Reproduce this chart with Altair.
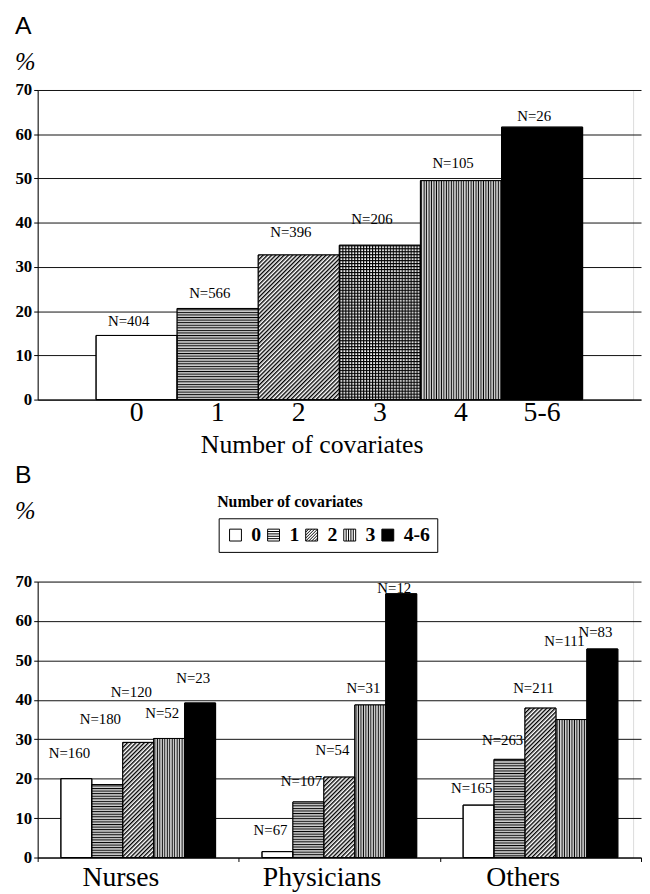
import base64
import altair as alt
import pandas as pd

# ---------------- data: panel A ----------------
cov_cats = ["0", "1", "2", "3", "4", "5-6"]
cov_pct = [14.5, 20.6, 32.7, 34.9, 49.5, 61.6]
cov_n = [404, 566, 396, 206, 105, 26]
cov_label_at = [17.7, 24.1, 37.9, 40.9, 53.4, 64.2]

# ---------------- data: panel B ----------------
groups = ["Nurses", "Physicians", "Others"]
b_cats = ["0", "1", "2", "3", "4-6"]
nurses_pct = [20.0, 18.5, 29.2, 30.2, 39.2]
physicians_pct = [1.5, 14.1, 20.4, 38.7, 66.9]
others_pct = [13.3, 24.9, 37.9, 35.0, 52.9]
nurses_n = [160, 180, 120, 52, 23]
physicians_n = [67, 107, 54, 31, 12]
others_n = [165, 263, 211, 111, 83]
nurses_label_at = [26.5, 35.0, 42.0, 36.7, 45.6]
physicians_label_at = [7.0, 19.4, 27.3, 43.0, 68.4]
others_label_at = [17.5, 29.8, 43.0, 55.0, 57.1]
y_ticks = [0, 10, 20, 30, 40, 50, 60, 70]

SERIF = "Liberation Serif, Tinos, Times New Roman, DejaVu Serif, serif"
SANS = "Liberation Sans, Arimo, Arial, sans-serif"


def pattern_uri(body, w, h, transform=""):
    tr = f" patternTransform='{transform}'" if transform else ""
    svg = (
        "<svg xmlns='http://www.w3.org/2000/svg' width='100%' height='100%'>"
        f"<defs><pattern id='p' width='{w}' height='{h}' patternUnits='userSpaceOnUse'{tr}>"
        f"{body}</pattern></defs>"
        "<rect width='100%' height='100%' fill='url(#p)'/></svg>"
    )
    return "data:image/svg+xml;base64," + base64.b64encode(svg.encode()).decode()


HLINES = pattern_uri("<rect width='4' height='2.6' fill='white'/><rect y='0.7' width='4' height='1.3' fill='black'/>", 4, 2.6)
DIAG = pattern_uri("<rect width='3' height='3' fill='white'/><rect width='1.4' height='3' fill='black'/>", 3, 3, "rotate(45)")
CHECK = pattern_uri("<rect width='3' height='3' fill='white'/><rect width='1.2' height='3' fill='black'/><rect width='3' height='1.2' fill='black'/>", 3, 3)
VLINES = pattern_uri("<rect width='2.5' height='4' fill='white'/><rect x='0.6' width='1.2' height='4' fill='black'/>", 2.5, 4)

patterns_A = {"1": HLINES, "2": DIAG, "3": CHECK, "4": VLINES}
patterns_B = {"1": HLINES, "2": DIAG, "3": VLINES}

# legend swatch shapes (unit square paths)
SQ = "M-1,-1H1V1H-1Z"
H_PATH = SQ + " M-1,-0.6H1 M-1,-0.2H1 M-1,0.2H1 M-1,0.6H1"
D_PATH = SQ + " M-1,0L0,-1 M-1,1L1,-1 M0,1L1,0 M-1,-0.5L-0.5,-1 M-1,0.5L0.5,-1 M-0.5,1L1,-0.5 M0.5,1L1,0.5"
V_PATH = SQ + " M-0.6,-1V1 M-0.2,-1V1 M0.2,-1V1 M0.6,-1V1"

y_axis_common = dict(
    values=y_ticks,
    labelFont=SERIF,
    labelFontSize=17,
    labelFontWeight="bold",
    labelColor="black",
    labelPadding=2,
    labelOverlap=False,
    tickSize=4,
    tickColor="black",
    domainColor="black",
    grid=True,
    gridColor="#111111",
    gridWidth=1,
)

# ---------------- panel A ----------------
dfA = pd.DataFrame({
    "k": cov_cats,
    "pct": cov_pct,
    "n": [f"N={v}" for v in cov_n],
    "lab": cov_label_at,
})

xA = alt.X(
    "k:N",
    sort=cov_cats,
    scale=alt.Scale(range=[0, 610], paddingInner=0, paddingOuter=0.72),
    axis=alt.Axis(
        title="Number of covariates",
        labelAngle=0,
        ticks=False,
        tickSize=0,
        labelFont=SERIF,
        labelFontSize=28,
        labelColor="black",
        labelBaseline="alphabetic",
        labelPadding=21,
        titleFont=SERIF,
        titleFontSize=26,
        titleFontWeight="normal",
        titleColor="black",
        titleX=277,
        titleY=53,
        titleBaseline="alphabetic",
        domainColor="black",
        grid=False,
    ),
)
axisA_y = alt.Axis(title=None, **y_axis_common)
yA = alt.Y("pct:Q", scale=alt.Scale(domain=[0, 70], nice=False), axis=axisA_y)
yA_lab = alt.Y("lab:Q", scale=alt.Scale(domain=[0, 70], nice=False), axis=axisA_y)

baseA = alt.Chart(dfA)
barsA = baseA.mark_bar(stroke="black", strokeWidth=1).encode(
    x=xA, y=yA,
    fill=alt.condition(alt.datum.k == "5-6", alt.value("black"), alt.value("white")),
)
imgA = [
    baseA.transform_filter(alt.datum.k == c).mark_image(aspect=False).encode(
        x=xA, y=yA, y2=alt.datum(0), url=alt.value(u)
    )
    for c, u in patterns_A.items()
]
outlineA = baseA.mark_bar(fillOpacity=0, stroke="black", strokeWidth=1).encode(x=xA, y=yA)
textA = baseA.mark_text(font=SERIF, fontSize=15, color="black", dx=-8, baseline="middle").encode(
    x=xA, y=yA_lab, text="n:N"
)

panelA = alt.layer(barsA, *imgA, outlineA, textA).properties(
    width=602,
    height=313,
    title=alt.Title(
        "A",
        subtitle="%",
        anchor="start",
        frame="bounds",
        font=SANS,
        fontSize=25,
        fontWeight="normal",
        color="black",
        subtitleFont=SERIF,
        subtitleFontSize=25,
        subtitleFontStyle="italic",
        subtitleColor="black",
        subtitlePadding=12,
        offset=6,
    ),
)

# ---------------- panel B ----------------
rows = []
for g, vals, ns, labs in [
    ("Nurses", nurses_pct, nurses_n, nurses_label_at),
    ("Physicians", physicians_pct, physicians_n, physicians_label_at),
    ("Others", others_pct, others_n, others_label_at),
]:
    for k, v, n, l in zip(b_cats, vals, ns, labs):
        rows.append({"g": g, "k": k, "pct": v, "n": f"N={n}", "lab": l})
dfB = pd.DataFrame(rows)

xB = alt.X(
    "g:N",
    sort=groups,
    scale=alt.Scale(range=[0, 610], paddingInner=0, paddingOuter=0),
    axis=alt.Axis(
        title=None,
        labelAngle=0,
        tickBand="extent",
        tickSize=4,
        tickColor="black",
        labelFont=SERIF,
        labelFontSize=28,
        labelColor="black",
        labelBaseline="alphabetic",
        labelPadding=24,
        labelOffset=-18,
        domainColor="black",
        grid=False,
    ),
)
xoB = alt.XOffset("k:N", sort=b_cats, scale=alt.Scale(paddingInner=0, paddingOuter=0.75))
axisB_y = alt.Axis(
    title="Number of covariates",
    titleAngle=0,
    titleX=181,
    titleY=-76,
    titleAlign="left",
    titleBaseline="alphabetic",
    titleFont=SERIF,
    titleFontSize=16,
    titleFontWeight="bold",
    titleColor="black",
    **y_axis_common,
)
yB = alt.Y("pct:Q", scale=alt.Scale(domain=[0, 70], nice=False), axis=axisB_y)
yB_lab = alt.Y("lab:Q", scale=alt.Scale(domain=[0, 70], nice=False), axis=axisB_y)

baseB = alt.Chart(dfB)
barsB = baseB.mark_bar(stroke="black", strokeWidth=1).encode(
    x=xB, xOffset=xoB, y=yB,
    fill=alt.condition(alt.datum.k == "4-6", alt.value("black"), alt.value("white")),
)
imgB = [
    baseB.transform_filter(alt.datum.k == c).mark_image(aspect=False).encode(
        x=xB, xOffset=xoB, y=yB, y2=alt.datum(0), url=alt.value(u)
    )
    for c, u in patterns_B.items()
]
outlineB = baseB.mark_bar(fillOpacity=0, stroke="black", strokeWidth=1).encode(x=xB, xOffset=xoB, y=yB)
textB = baseB.mark_text(font=SERIF, fontSize=15, color="black", dx=-7, baseline="middle").encode(
    x=xB, xOffset=xoB, y=yB_lab, text="n:N"
)

legend_props = dict(
    title=None,
    orient="none",
    legendX=183,
    legendY=-64,
    direction="horizontal",
    strokeColor="black",
    fillColor="white",
    padding=7,
    symbolSize=144,
    symbolStrokeWidth=1,
    symbolStrokeColor="black",
    labelFont=SERIF,
    labelFontSize=20,
    labelFontWeight="bold",
    labelColor="black",
    labelOffset=6,
    columnPadding=2.5,
)
legendB = baseB.transform_filter("false").mark_point(
    filled=True, size=144, strokeWidth=1, opacity=1
).encode(
    shape=alt.Shape("k:N", scale=alt.Scale(domain=b_cats, range=[SQ, H_PATH, D_PATH, V_PATH, SQ]), legend=alt.Legend(**legend_props)),
    fill=alt.Fill("k:N", scale=alt.Scale(domain=b_cats, range=["white", "white", "white", "white", "black"]), legend=alt.Legend(**legend_props)),
    stroke=alt.Stroke("k:N", scale=alt.Scale(domain=b_cats, range=["black"] * 5), legend=alt.Legend(**legend_props)),
)

panelB = alt.layer(barsB, *imgB, outlineB, textB, legendB).properties(
    width=602,
    height=279,
    title=alt.Title(
        "B",
        subtitle="%",
        anchor="start",
        frame="bounds",
        font=SANS,
        fontSize=25,
        fontWeight="normal",
        color="black",
        subtitleFont=SERIF,
        subtitleFontSize=25,
        subtitleFontStyle="italic",
        subtitleColor="black",
        subtitlePadding=12,
        offset=-31,
    ),
)

chart = (
    alt.vconcat(panelA, panelB, spacing=4)
    .resolve_scale(fill="independent", shape="independent", stroke="independent")
    .resolve_legend(fill="independent", shape="independent", stroke="independent")
    .properties(padding={"left": 6, "top": 0, "right": 0, "bottom": 0})
    .configure_view(stroke=None)
    .configure(background="white")
)

chart.save("out.html", embed_options={"renderer": "svg", "actions": False})
